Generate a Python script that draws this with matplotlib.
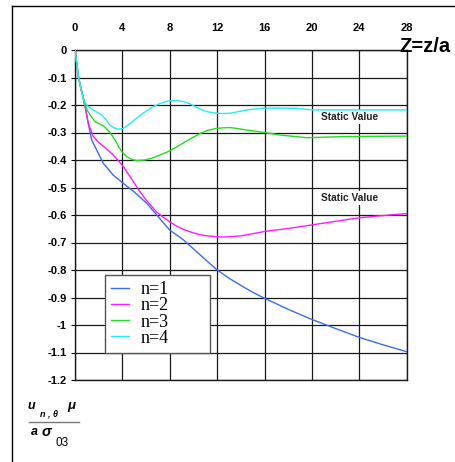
import matplotlib
matplotlib.use("Agg")
import matplotlib.pyplot as plt
from matplotlib.lines import Line2D

# Dimensionless distance Z = z/a and displacement for each mode n
x_n1 = [0, 0.15, 0.3, 0.5, 0.7, 0.9, 1.12, 1.41, 1.83, 2.39, 3.23, 4.22, 5.0, 6.05, 7.0,
        8.0, 9.14, 10.0, 11.0, 12.0, 13.0, 14.0, 15.0, 16.0, 18.0, 20.0, 22.0, 24.0, 26.0, 28.0]
y_n1 = [0, -0.05, -0.10, -0.14, -0.175, -0.215, -0.267, -0.327, -0.364, -0.412, -0.455, -0.49,
        -0.516, -0.557, -0.605, -0.655, -0.69, -0.723, -0.762, -0.80, -0.83, -0.856, -0.881,
        -0.903, -0.943, -0.98, -1.013, -1.045, -1.072, -1.097]

x_n2 = [0, 0.15, 0.3, 0.5, 0.7, 0.9, 1.12, 1.55, 2.0, 2.39, 2.8, 3.23, 3.65, 4.08, 4.6, 5.2,
        5.6, 6.0, 6.9, 7.4, 8.0, 8.6, 9.3, 10.0, 10.5, 11.0, 12.0, 12.5, 13.0, 14.0, 16.0,
        18.0, 20.0, 22.0, 24.0, 26.0, 28.0]
y_n2 = [0, -0.05, -0.10, -0.14, -0.175, -0.215, -0.267, -0.315, -0.336, -0.35, -0.365, -0.382,
        -0.402, -0.424, -0.458, -0.497, -0.522, -0.545, -0.59, -0.606, -0.625, -0.641, -0.655,
        -0.665, -0.671, -0.675, -0.679, -0.68, -0.679, -0.676, -0.66, -0.649, -0.636, -0.623,
        -0.610, -0.602, -0.595]

x_n3 = [0, 0.15, 0.3, 0.5, 0.7, 0.84, 1.05, 1.27, 1.69, 2.39, 2.75, 3.1, 3.4, 3.66, 4.0, 4.36,
        4.8, 5.2, 5.9, 6.5, 7.17, 8.0, 8.8, 9.7, 10.55, 11.2, 11.96, 12.5, 13.1, 13.8, 14.5,
        16.0, 17.3, 19.55, 22.6, 25.0, 28.0]
y_n3 = [0, -0.05, -0.10, -0.14, -0.175, -0.2, -0.22, -0.236, -0.26, -0.276, -0.29, -0.309,
        -0.328, -0.35, -0.372, -0.388, -0.398, -0.402, -0.40, -0.393, -0.382, -0.367, -0.347,
        -0.324, -0.304, -0.292, -0.285, -0.283, -0.282, -0.286, -0.291, -0.30, -0.309, -0.319,
        -0.315, -0.314, -0.313]

x_n4 = [0, 0.15, 0.3, 0.5, 0.7, 0.84, 1.1, 1.55, 2.25, 2.6, 2.95, 3.3, 3.66, 4.08, 4.5, 5.2,
        5.8, 6.6, 7.2, 7.87, 8.6, 9.2, 9.7, 10.4, 11.1, 11.96, 12.5, 13.1, 14.5, 16.0, 18.7,
        20.0, 24.0, 28.0]
y_n4 = [0, -0.05, -0.10, -0.14, -0.176, -0.19, -0.205, -0.218, -0.236, -0.252, -0.273, -0.283,
        -0.288, -0.285, -0.272, -0.248, -0.228, -0.206, -0.194, -0.185, -0.184, -0.188, -0.196,
        -0.211, -0.224, -0.23, -0.231, -0.23, -0.218, -0.211, -0.212, -0.218, -0.218, -0.218]

labels = ["n=1", "n=2", "n=3", "n=4"]
colors = ["#3a6cf4", "#ff1aff", "#22dd22", "#22eeee"]
x_ticks = [0, 4, 8, 12, 16, 20, 24, 28]
y_ticks = [0, -0.1, -0.2, -0.3, -0.4, -0.5, -0.6, -0.7, -0.8, -0.9, -1, -1.1, -1.2]
y_ticklabels = ["0", "-0.1", "-0.2", "-0.3", "-0.4", "-0.5", "-0.6", "-0.7", "-0.8",
                "-0.9", "-1", "-1.1", "-1.2"]

W, H = 456, 462
fig = plt.figure(figsize=(W / 100, H / 100), dpi=100)
plt.rcParams["font.family"] = ["Liberation Sans", "DejaVu Sans"]

def fx(px):
    return px / W

def fy(py):
    return 1 - py / H

ax = fig.add_axes([fx(75), fy(380), fx(406.7) - fx(75), fy(50) - fy(380)])
ax.set_xlim(0, 28)
ax.set_ylim(-1.2, 0)

series = [(x_n1, y_n1), (x_n2, y_n2), (x_n3, y_n3), (x_n4, y_n4)]
for (xs, ys), c, lab in zip(series, colors, labels):
    ax.plot(xs, ys, color=c, lw=1.0, label=lab, zorder=3, solid_joinstyle="round")

ax.set_xticks(x_ticks)
ax.set_yticks(y_ticks)
ax.set_yticklabels(y_ticklabels)
ax.xaxis.tick_top()
ax.tick_params(axis="x", length=0, pad=12, labelsize=8)
ax.tick_params(axis="y", length=3, width=0.8, pad=3, labelsize=8)
for t in ax.get_xticklabels() + ax.get_yticklabels():
    t.set_fontweight("bold")
ax.grid(True, color="#1a1a1a", lw=0.9)
ax.set_axisbelow(True)
for s in ax.spines.values():
    s.set_color("#1a1a1a")
    s.set_linewidth(1.0)

# Static value annotations
for yv in (-0.244, -0.538):
    ax.text(23.2, yv, "Static Value", fontsize=7.3, fontweight="bold", ha="center",
            va="center", color="#222222", zorder=2,
            bbox=dict(facecolor="white", edgecolor="none", pad=1.2))

leg = ax.legend(loc="lower left", bbox_to_anchor=(0.0905, 0.082, 0.316, 0.26),
                mode="expand", prop={"family": "Liberation Serif", "size": 13},
                handlelength=1.0, handletextpad=0.6, labelspacing=-0.05,
                borderpad=0.35, fancybox=False, framealpha=1, borderaxespad=0)
leg.get_frame().set_edgecolor("#555555")
leg.get_frame().set_linewidth(1.0)

# Axis title on the Z side
fig.text(fx(425), fy(46), "Z=z/a", fontsize=14.5, fontweight="bold", ha="center", va="center")

# Ordinate quantity written as a fraction
fig.text(fx(31.5), fy(406), "u", fontsize=9, fontweight="bold", style="italic",
         ha="center", va="center")
fig.text(fx(49), fy(414), "n , θ", fontsize=6.5, fontweight="bold", style="italic",
         ha="center", va="center")
fig.text(fx(71), fy(406), "μ", fontsize=9.5, fontweight="bold", style="italic",
         ha="center", va="center")
fig.add_artist(Line2D([fx(29), fx(79)], [fy(422), fy(422)], color="#777777", lw=1.0))
fig.text(fx(34), fy(432), "a", fontsize=9, fontweight="bold", style="italic",
         ha="center", va="center")
fig.text(fx(46), fy(432), "σ", fontsize=10.5, fontweight="bold", style="italic",
         ha="center", va="center")
fig.text(fx(62.5), fy(443), "03", fontsize=8.5, ha="center", va="center")

# Outer frame (top and left edges)
fig.add_artist(Line2D([fx(12), fx(12)], [fy(6), 0], color="black", lw=1.0))
fig.add_artist(Line2D([fx(12), 1], [fy(6), fy(6)], color="black", lw=1.0))

fig.savefig("out.png", dpi=100)
